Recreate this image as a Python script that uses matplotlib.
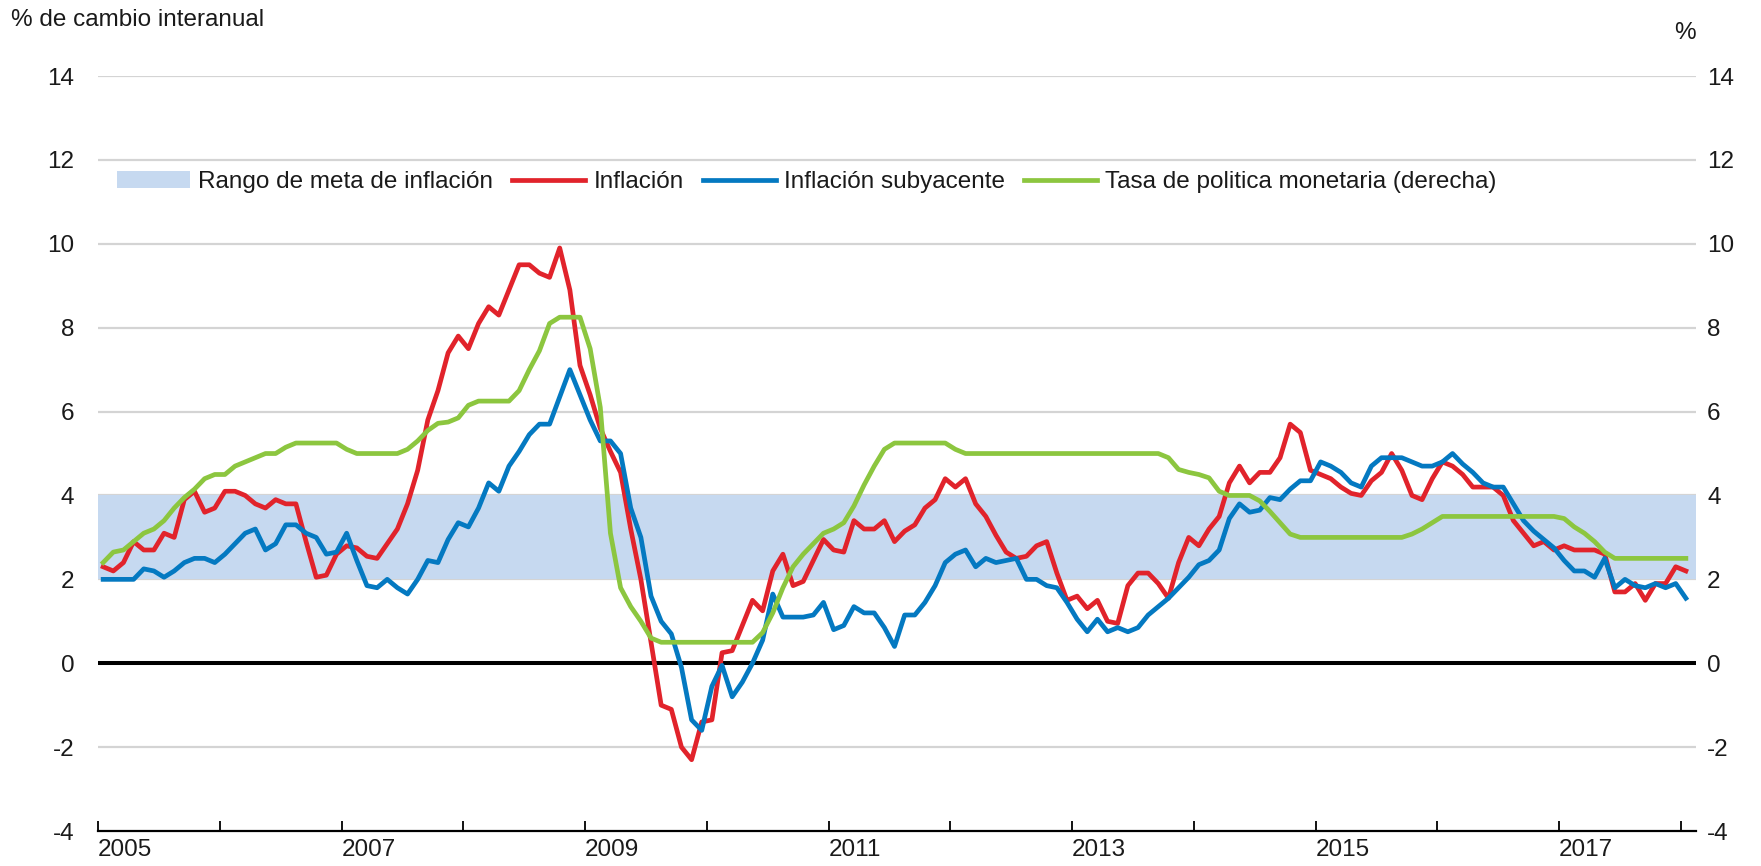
import matplotlib
matplotlib.use("Agg")
import matplotlib.pyplot as plt
from matplotlib import font_manager
from matplotlib.patches import Patch
from matplotlib.lines import Line2D
import numpy as np

# ---------------- data (monthly, Jan 2005 - Jan 2018) ----------------
start_year = 2005
inflacion = [
    2.3, 2.2, 2.4, 2.9, 2.7, 2.7, 3.1, 3.0, 3.9, 4.1, 3.6, 3.7,       # 2005
    4.1, 4.1, 4.0, 3.8, 3.7, 3.9, 3.8, 3.8, 2.9, 2.05, 2.1, 2.6,      # 2006
    2.8, 2.75, 2.55, 2.5, 2.85, 3.2, 3.8, 4.6, 5.8, 6.5, 7.4, 7.8,    # 2007
    7.5, 8.1, 8.5, 8.3, 8.9, 9.5, 9.5, 9.3, 9.2, 9.9, 8.9, 7.1,       # 2008
    6.4, 5.6, 5.05, 4.55, 3.2, 2.0, 0.5, -1.0, -1.1, -2.0, -2.3, -1.4, # 2009
    -1.35, 0.25, 0.3, 0.9, 1.5, 1.25, 2.2, 2.6, 1.85, 1.95, 2.45, 2.95, # 2010
    2.7, 2.65, 3.4, 3.2, 3.2, 3.4, 2.9, 3.15, 3.3, 3.7, 3.9, 4.4,     # 2011
    4.2, 4.4, 3.8, 3.5, 3.05, 2.65, 2.5, 2.55, 2.8, 2.9, 2.15, 1.5,   # 2012
    1.6, 1.3, 1.5, 1.0, 0.95, 1.85, 2.15, 2.15, 1.9, 1.55, 2.4, 3.0,  # 2013
    2.8, 3.2, 3.5, 4.3, 4.7, 4.3, 4.55, 4.55, 4.9, 5.7, 5.5, 4.6,     # 2014
    4.5, 4.4, 4.2, 4.05, 4.0, 4.35, 4.55, 5.0, 4.6, 4.0, 3.9, 4.4,    # 2015
    4.8, 4.7, 4.5, 4.2, 4.2, 4.2, 4.0, 3.4, 3.1, 2.8, 2.9, 2.7,       # 2016
    2.8, 2.7, 2.7, 2.7, 2.6, 1.7, 1.7, 1.9, 1.5, 1.9, 1.9, 2.3,       # 2017
    2.2,                                                              # 2018
]
subyacente = [
    2.0, 2.0, 2.0, 2.0, 2.25, 2.2, 2.05, 2.2, 2.4, 2.5, 2.5, 2.4,     # 2005
    2.6, 2.85, 3.1, 3.2, 2.7, 2.85, 3.3, 3.3, 3.1, 3.0, 2.6, 2.65,    # 2006
    3.1, 2.45, 1.85, 1.8, 2.0, 1.8, 1.65, 2.0, 2.45, 2.4, 2.95, 3.35, # 2007
    3.25, 3.7, 4.3, 4.1, 4.7, 5.05, 5.45, 5.7, 5.7, 6.35, 7.0, 6.4,   # 2008
    5.8, 5.3, 5.3, 5.0, 3.7, 3.0, 1.6, 1.0, 0.7, -0.1, -1.35, -1.6,   # 2009
    -0.55, -0.05, -0.8, -0.45, 0.0, 0.55, 1.65, 1.1, 1.1, 1.1, 1.15, 1.45, # 2010
    0.8, 0.9, 1.35, 1.2, 1.2, 0.85, 0.4, 1.15, 1.15, 1.45, 1.85, 2.4, # 2011
    2.6, 2.7, 2.3, 2.5, 2.4, 2.45, 2.5, 2.0, 2.0, 1.85, 1.8, 1.45,    # 2012
    1.05, 0.75, 1.05, 0.75, 0.85, 0.75, 0.85, 1.15, 1.35, 1.55, 1.8, 2.05, # 2013
    2.35, 2.45, 2.7, 3.45, 3.8, 3.6, 3.65, 3.95, 3.9, 4.15, 4.35, 4.35, # 2014
    4.8, 4.7, 4.55, 4.3, 4.2, 4.7, 4.9, 4.9, 4.9, 4.8, 4.7, 4.7,      # 2015
    4.8, 5.0, 4.75, 4.55, 4.3, 4.2, 4.2, 3.8, 3.4, 3.15, 2.95, 2.75,  # 2016
    2.45, 2.2, 2.2, 2.05, 2.5, 1.8, 2.0, 1.85, 1.8, 1.9, 1.8, 1.9,    # 2017
    1.55,                                                             # 2018
]
tasa_politica = [
    2.4, 2.65, 2.7, 2.9, 3.1, 3.2, 3.4, 3.7, 3.95, 4.15, 4.4, 4.5,    # 2005
    4.5, 4.7, 4.8, 4.9, 5.0, 5.0, 5.15, 5.25, 5.25, 5.25, 5.25, 5.25, # 2006
    5.1, 5.0, 5.0, 5.0, 5.0, 5.0, 5.1, 5.3, 5.55, 5.72, 5.75, 5.85,   # 2007
    6.15, 6.25, 6.25, 6.25, 6.25, 6.5, 7.0, 7.45, 8.1, 8.25, 8.25, 8.25, # 2008
    7.5, 6.1, 3.1, 1.8, 1.35, 1.0, 0.6, 0.5, 0.5, 0.5, 0.5, 0.5,      # 2009
    0.5, 0.5, 0.5, 0.5, 0.5, 0.73, 1.2, 1.8, 2.3, 2.6, 2.85, 3.1,     # 2010
    3.2, 3.35, 3.75, 4.25, 4.7, 5.1, 5.25, 5.25, 5.25, 5.25, 5.25, 5.25, # 2011
    5.1, 5.0, 5.0, 5.0, 5.0, 5.0, 5.0, 5.0, 5.0, 5.0, 5.0, 5.0,       # 2012
    5.0, 5.0, 5.0, 5.0, 5.0, 5.0, 5.0, 5.0, 5.0, 4.9, 4.62, 4.55,     # 2013
    4.5, 4.42, 4.1, 4.0, 4.0, 4.0, 3.87, 3.62, 3.35, 3.08, 3.0, 3.0,  # 2014
    3.0, 3.0, 3.0, 3.0, 3.0, 3.0, 3.0, 3.0, 3.0, 3.08, 3.2, 3.35,     # 2015
    3.5, 3.5, 3.5, 3.5, 3.5, 3.5, 3.5, 3.5, 3.5, 3.5, 3.5, 3.5,       # 2016
    3.45, 3.25, 3.1, 2.9, 2.65, 2.5, 2.5, 2.5, 2.5, 2.5, 2.5, 2.5,    # 2017
    2.5,                                                              # 2018
]
meta_rango = [2, 4]
y_ticks = [-4, -2, 0, 2, 4, 6, 8, 10, 12, 14]
year_ticks = list(range(2005, 2019))
year_labels = [str(y) if y % 2 == 1 else "" for y in year_ticks]

legend_labels = ["Rango de meta de inflación", "Inflación",
                 "Inflación subyacente", "Tasa de politica monetaria (derecha)"]
left_title = "% de cambio interanual"
right_title = "%"

# ---------------- style ----------------
names = {f.name for f in font_manager.fontManager.ttflist}
fam = "Liberation Sans Narrow" if "Liberation Sans Narrow" in names else "Liberation Sans"
plt.rcParams["font.family"] = [fam, "DejaVu Sans"]
FS = 17.5
TXT = "#1a1a1a"
RED = "#e1232b"
BLUE = "#0479c1"
GREEN = "#8cc63f"
BAND = "#c6d9f0"
GRID = "#d4d4d4"
LW = 3.4

n = len(inflacion)
x = start_year + (np.arange(n) + 0.5) / 12.0

fig = plt.figure(figsize=(17.61, 8.66), dpi=100)
ax = fig.add_axes([0.0557, 0.0404, 0.9074, 0.8718])
ax.set_xlim(2005, 2018.125)
ax.set_ylim(-4, 14)

ax.axhspan(meta_rango[0], meta_rango[1], color=BAND, lw=0, zorder=1)
for yv in y_ticks[1:]:
    ax.axhline(yv, color=GRID, lw=1.6, zorder=0.5)
ax.axhline(0, color="black", lw=2.9, zorder=2)

ax.plot(x, inflacion, color=RED, lw=LW, zorder=3)
ax.plot(x, subyacente, color=BLUE, lw=LW, zorder=4)

ax2 = ax.twinx()
ax2.set_ylim(-4, 14)
ax2.plot(x, tasa_politica, color=GREEN, lw=LW, zorder=5)

for a in (ax, ax2):
    for s in ("top", "left", "right", "bottom"):
        a.spines[s].set_visible(False)
ax.spines["bottom"].set_visible(True)
ax.spines["bottom"].set_linewidth(1.6)
ax.spines["bottom"].set_color("black")

ax.set_yticks(y_ticks)
ax.set_yticklabels([str(v) for v in y_ticks])
ax2.set_yticks(y_ticks)
ax2.set_yticklabels([str(v) for v in y_ticks])
ax.tick_params(axis="y", length=0, pad=17, labelsize=FS, labelcolor=TXT)
ax2.tick_params(axis="y", length=0, pad=8, labelsize=FS, labelcolor=TXT)

ax.set_xticks(year_ticks)
ax.set_xticklabels(year_labels)
ax.tick_params(axis="x", direction="in", length=7.5, width=1.3, pad=6,
               labelsize=FS, labelcolor=TXT, color="black")
for lab in ax.get_xticklabels():
    lab.set_horizontalalignment("left")

fig.text(11 / 1761, 1 - 20 / 866, left_title, fontsize=FS, color=TXT,
         ha="left", va="center")
fig.text(1696 / 1761, 1 - 33 / 866, right_title, fontsize=FS, color=TXT,
         ha="right", va="center")

handles = [Patch(facecolor=BAND, edgecolor="none"),
           Line2D([], [], color=RED, lw=LW),
           Line2D([], [], color=BLUE, lw=LW),
           Line2D([], [], color=GREEN, lw=LW)]
fig.legend(handles, legend_labels, loc="center left",
           bbox_to_anchor=(117 / 1761, 1 - 182 / 866), ncol=4, frameon=False,
           fontsize=FS, handlelength=3.0, handletextpad=0.33,
           columnspacing=0.8, borderpad=0, borderaxespad=0,
           labelcolor=TXT)

fig.savefig("out.png", dpi=100)
